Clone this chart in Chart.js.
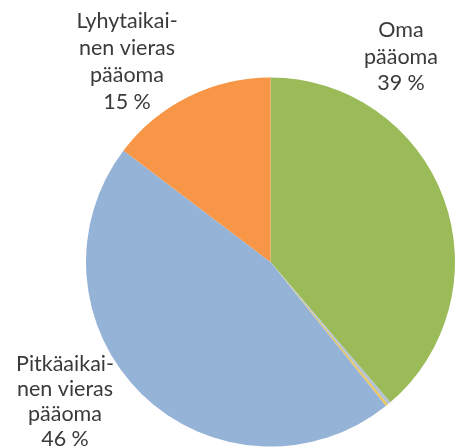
<!DOCTYPE html>
<html>
<head>
<meta charset="utf-8">
<script src="https://cdn.jsdelivr.net/npm/chart.js@4"></script>
<style>
  html, body { margin: 0; padding: 0; background: #fff; }
  #wrap { width: 457px; height: 448px; }
</style>
</head>
<body>
<div id="wrap"><canvas id="pie" width="457" height="448"></canvas></div>
<script>
const categories = ["Oma pääoma", "muu", "muu 2", "Pitkäaikainen vieras pääoma", "Lyhytaikainen vieras pääoma"];
const shares = [38.75, 0.28, 0.22, 46.08, 14.67];
const sliceColors = ["#9bbb59", "#b3c1d3", "#e9c65b", "#95b3d7", "#f79646"];

// label text per slice (null = no label), lines split as in the picture
const labelLines = [
  ["Oma", "pääoma", "39 %"],
  null,
  null,
  ["Pitkäaikai-", "nen vieras", "pääoma", "46 %"],
  ["Lyhytaikai-", "nen vieras", "pääoma", "15 %"]
];

// where each label block sits: centre x, first baseline y, line step
const labelPlace = [
  { x: 401, y: 37, step: 26.5 },
  null,
  null,
  { x: 65, y: 371, step: 25 },
  { x: 127, y: 28, step: 27 }
];

const labelPlugin = {
  id: "sideLabels",
  afterDraw(chart) {
    const ctx = chart.ctx;
    ctx.save();
    ctx.fillStyle = "#3a3a3a";
    ctx.font = "21.5px Lato";
    ctx.textAlign = "center";
    ctx.textBaseline = "alphabetic";
    labelLines.forEach((lines, i) => {
      if (!lines) return;
      const p = labelPlace[i];
      lines.forEach((t, j) => ctx.fillText(t, p.x, p.y + j * p.step));
    });
    ctx.restore();
  }
};

new Chart(document.getElementById("pie").getContext("2d"), {
  type: "pie",
  data: {
    labels: categories,
    datasets: [{
      data: shares,
      backgroundColor: sliceColors,
      borderWidth: 0
    }]
  },
  options: {
    responsive: false,
    animation: false,
    layout: { padding: { left: 86, right: 2, top: 77, bottom: 1 } },
    plugins: {
      legend: { display: false },
      tooltip: { enabled: false }
    }
  },
  plugins: [labelPlugin]
});
</script>
</body>
</html>
